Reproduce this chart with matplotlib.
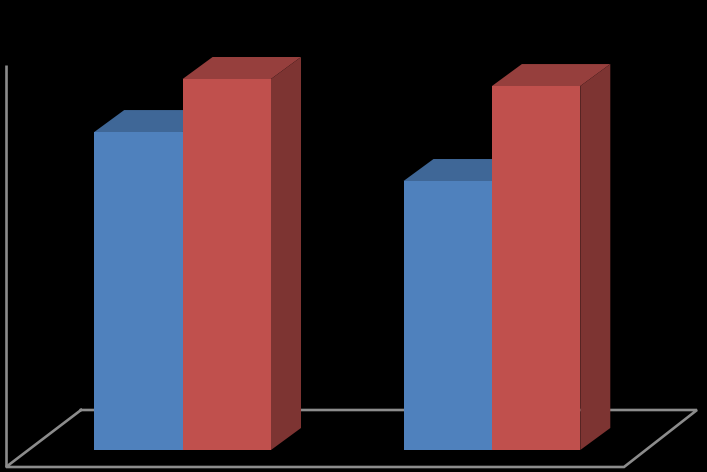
import matplotlib
matplotlib.use("Agg")
import matplotlib.pyplot as plt
from matplotlib.patches import Polygon

categories = ["Group 1", "Group 2"]
series_a = [85.7, 72.5]
series_b = [100.0, 98.1]

PX_X = 309.3   # pixels per category
PX_Y = 3.71    # pixels per value unit
X0 = 182.6     # pixel position of the first category
DX = 30 / PX_X
DY = 22 / PX_Y
WIDTH = 88.4 / PX_X

BLUE = ("#4F81BD", "#3F6797", "#355680")
RED = ("#C0504D", "#963F3D", "#7D3432")
GRID = "#8C8C8C"

fig = plt.figure(figsize=(7.07, 4.72), dpi=100, facecolor="black")
ax = fig.add_axes([0, 0, 1, 1], facecolor="black")
ax.set_xlim(-X0 / PX_X, (707 - X0) / PX_X)
ax.set_ylim(-22 / PX_Y, 450 / PX_Y)
ax.axis("off")

# floor and wall
fx0, fx1 = (6 - X0) / PX_X, (624 - X0) / PX_X
fy0 = -17 / PX_Y
bx0, bx1 = (81 - X0) / PX_X, (697 - X0) / PX_X
by0 = 40 / PX_Y
wall_top = 385 / PX_Y
ax.plot([fx0, fx0], [wall_top, fy0], color=GRID, lw=1.9, solid_capstyle="butt", zorder=1)
ax.plot([bx0, fx0, fx1, bx1, bx0], [by0, fy0, fy0, by0, by0], color=GRID, lw=1.9,
        solid_joinstyle="miter", zorder=1)


def bar3d(x_left, value, colors, z):
    x_right = x_left + WIDTH
    ax.bar(x_left, value, width=WIDTH, align="edge", color=colors[0], lw=0, zorder=z + 0.2)
    ax.add_patch(Polygon([(x_left, value), (x_right, value), (x_right + DX, value + DY), (x_left + DX, value + DY)],
                         closed=True, fc=colors[1], lw=0, zorder=z + 0.1))
    ax.add_patch(Polygon([(x_right, 0), (x_right + DX, DY), (x_right + DX, value + DY), (x_right, value)],
                         closed=True, fc=colors[2], lw=0, zorder=z + 0.1))


for i, _name in enumerate(categories):
    bar3d(i - WIDTH, series_a[i], BLUE, 2)
    bar3d(i, series_b[i], RED, 3)

fig.savefig("out.png", dpi=100, facecolor="black")
